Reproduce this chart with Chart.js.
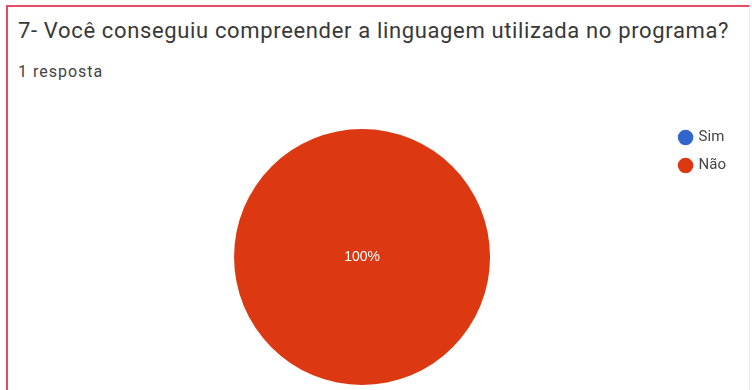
<!DOCTYPE html>
<html lang="pt-BR">
<head>
    <meta charset="UTF-8">
    <title>Resultado da pergunta 7</title>
    <script src="https://cdn.jsdelivr.net/npm/chart.js"></script>
    <style>
        html, body { margin: 0; padding: 0; background: #fff; overflow: hidden; }
        .card {
            position: absolute; left: 6px; top: 5px; width: 744px; height: 420px;
            border-top: 2px solid #e84a66; border-left: 2px solid #e84a66;
            border-right: 1px solid #ececec;
            box-sizing: border-box;
        }
        .titulo {
            position: absolute; left: 10px; top: 11px;
            font-family: Roboto, Arial, sans-serif; font-size: 22px; letter-spacing: 0.65px; color: #383838;
            white-space: nowrap;
        }
        .respostas {
            position: absolute; left: 10px; top: 55px;
            font-family: Roboto, Arial, sans-serif; font-size: 16px; letter-spacing: 1px; color: #444;
        }
        .grafico { position: absolute; left: 0; top: 85px; width: 740px; height: 305px; }
    </style>
</head>
<body>
    <div class="card">
        <div class="titulo">7- Você conseguiu compreender a linguagem utilizada no programa?</div>
        <div class="respostas">1 resposta</div>
        <div class="grafico"><canvas id="pizza"></canvas></div>
    </div>

    <script>
        const opcoes = ['Sim', 'Não'];
        const respostas = [0, 1];
        const cores = ['#3366cc', '#dc3912'];

        const total = respostas.reduce((s, v) => s + v, 0);

        // rótulo de porcentagem no meio de cada fatia
        const rotuloPorcentagem = {
            id: 'rotuloPorcentagem',
            afterDatasetsDraw(chart) {
                const ctx = chart.ctx;
                const meta = chart.getDatasetMeta(0);
                ctx.save();
                ctx.fillStyle = '#fff';
                ctx.font = '14px Arial, sans-serif';
                ctx.textAlign = 'center';
                ctx.textBaseline = 'middle';
                meta.data.forEach((arco, i) => {
                    const v = respostas[i];
                    if (!v) return;
                    const pct = Math.round(v / total * 100) + '%';
                    if (v === total) {
                        ctx.fillText(pct, arco.x, arco.y);
                    } else {
                        const p = arco.tooltipPosition();
                        ctx.fillText(pct, p.x, p.y);
                    }
                });
                ctx.restore();
            }
        };

        new Chart(document.getElementById('pizza'), {
            type: 'pie',
            data: {
                labels: opcoes,
                datasets: [{
                    data: respostas,
                    backgroundColor: cores,
                    borderWidth: 0
                }]
            },
            options: {
                responsive: true,
                maintainAspectRatio: false,
                animation: false,
                radius: 128,
                layout: { padding: { left: 49, top: 25, right: 12, bottom: 0 } },
                plugins: {
                    legend: {
                        position: 'right',
                        align: 'start',
                        labels: {
                            usePointStyle: true,
                            pointStyle: 'circle',
                            boxWidth: 11,
                            boxHeight: 11,
                            padding: 13,
                            color: '#444',
                            font: { family: 'Roboto, Arial, sans-serif', size: 15 }
                        }
                    },
                    tooltip: { enabled: false }
                }
            },
            plugins: [rotuloPorcentagem]
        });
    </script>
</body>
</html>
